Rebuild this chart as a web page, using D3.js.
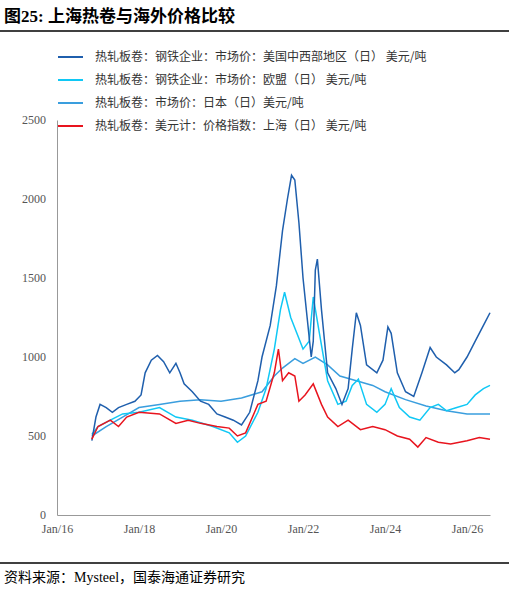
<!DOCTYPE html><html><head><meta charset="utf-8">
<script src="https://cdn.jsdelivr.net/npm/d3@7"></script>
<style>body{margin:0;background:#fff}</style></head><body>
<svg id="c" width="509" height="593"></svg>
<script>
const seriesNames = ["热轧板卷：钢铁企业：市场价：美国中西部地区（日） 美元/吨","热轧板卷：钢铁企业：市场价：欧盟（日） 美元/吨","热轧板卷：市场价：日本（日）美元/吨","热轧板卷：美元计：价格指数：上海（日） 美元/吨"];
const colors = ["#1f5fad","#10c8f5","#3a9ede","#e8141e"];
const usT=[2016.85,2016.95,2017.05,2017.2,2017.35,2017.5,2017.7,2017.9,2018.05,2018.15,2018.3,2018.45,2018.6,2018.75,2018.9,2019.0,2019.1,2019.3,2019.5,2019.7,2019.9,2020.1,2020.3,2020.5,2020.7,2020.9,2021.0,2021.2,2021.35,2021.5,2021.62,2021.72,2021.8,2021.9,2022.0,2022.1,2022.2,2022.25,2022.3,2022.35,2022.45,2022.6,2022.8,2022.95,2023.1,2023.2,2023.3,2023.4,2023.55,2023.8,2023.95,2024.07,2024.15,2024.3,2024.5,2024.7,2024.9,2025.1,2025.25,2025.5,2025.7,2025.8,2026.0,2026.2,2026.4,2026.56];
const usV=[470,620,700,680,650,680,700,720,760,900,980,1010,970,900,960,900,830,780,720,700,640,620,600,570,650,850,1000,1200,1450,1800,2000,2150,2120,1850,1500,1250,1000,1100,1550,1620,1300,900,800,700,800,1050,1280,1200,950,900,980,1190,1150,900,780,750,900,1060,1000,950,900,920,1000,1100,1200,1280];
const euT=[2016.85,2017.0,2017.3,2017.6,2018.0,2018.5,2018.9,2019.3,2019.8,2020.2,2020.4,2020.6,2020.9,2021.1,2021.3,2021.45,2021.55,2021.7,2021.85,2022.0,2022.15,2022.25,2022.4,2022.6,2022.85,2023.05,2023.2,2023.35,2023.55,2023.8,2024.0,2024.15,2024.35,2024.6,2024.85,2025.1,2025.3,2025.5,2025.75,2026.0,2026.2,2026.4,2026.56];
const euV=[510,560,600,640,650,680,620,600,560,520,460,500,650,800,1050,1300,1410,1250,1150,1050,1100,1380,1150,850,700,720,820,860,700,650,700,800,680,620,600,680,700,660,680,700,760,800,820];
const jpT=[2016.85,2017.2,2017.6,2018.0,2018.5,2019.0,2019.5,2020.0,2020.5,2021.0,2021.3,2021.5,2021.8,2022.0,2022.3,2022.6,2022.9,2023.3,2023.7,2024.0,2024.5,2025.0,2025.5,2026.0,2026.56];
const jpV=[500,560,620,680,700,720,730,720,740,780,880,930,990,960,1000,950,880,850,820,780,730,690,660,640,640];
const shT=[2016.85,2017.0,2017.3,2017.5,2017.7,2018.0,2018.5,2018.9,2019.2,2019.5,2019.9,2020.2,2020.4,2020.6,2020.9,2021.1,2021.3,2021.4,2021.5,2021.65,2021.8,2021.9,2022.05,2022.25,2022.45,2022.6,2022.85,2023.1,2023.4,2023.7,2024.0,2024.3,2024.6,2024.8,2025.0,2025.3,2025.6,2026.0,2026.3,2026.56];
const shV=[480,560,600,560,620,650,640,580,600,580,560,550,500,520,700,720,900,1050,850,900,880,720,760,830,700,620,560,600,540,560,540,500,480,430,490,460,450,470,490,480];
const seriesT=[usT,euT,jpT,shT], seriesV=[usV,euV,jpV,shV];
const yTicks=[0,500,1000,1500,2000,2500];
const xTickLabels=["Jan/16","Jan/18","Jan/20","Jan/22","Jan/24","Jan/26"];
const xTickYears=[2016,2018,2020,2022,2024,2026];
const svg=d3.select("#c");
svg.append("text").attr("x",4).attr("y",22).attr("font-size",17).attr("font-weight","bold").attr("font-family","Liberation Serif, Noto Sans CJK SC, serif").attr("fill","#000").text("图25:  上海热卷与海外价格比较");
svg.append("line").attr("x1",0).attr("x2",509).attr("y1",31).attr("y2",31).attr("stroke","#000").attr("stroke-width",1.5);
svg.append("line").attr("x1",0).attr("x2",509).attr("y1",563).attr("y2",563).attr("stroke","#000").attr("stroke-width",1.5);
svg.append("text").attr("x",4).attr("y",582).attr("font-size",14).attr("font-family","Liberation Serif, Noto Sans CJK SC, serif").attr("fill","#000").text("资料来源：Mysteel，国泰海通证券研究");
const x=d3.scaleLinear().domain([2016,2026.56]).range([57,490]);
const y=d3.scaleLinear().domain([0,2500]).range([515,120]);
const ax=svg.append("g").attr("transform","translate(0,515)").call(d3.axisBottom(x).tickValues(xTickYears).tickFormat((d,i)=>xTickLabels[i]).tickSize(0).tickPadding(9));
ax.select(".domain").attr("stroke","#999");
const ay=svg.append("g").attr("transform","translate(57,0)").call(d3.axisLeft(y).tickValues(yTicks).tickFormat(d3.format("d")).tickSize(0).tickPadding(11));
ay.select(".domain").attr("stroke","#999");
svg.selectAll(".tick text").attr("font-family","Liberation Serif, serif").attr("font-size",12).attr("fill","#555");
[2,1,0,3].forEach(k=>{
 const pts=seriesT[k].map((t,i)=>[t,seriesV[k][i]]);
 svg.append("path").attr("d",d3.line().x(d=>x(d[0])).y(d=>y(d[1]))(pts)).attr("fill","none").attr("stroke",colors[k]).attr("stroke-width",1.5);
});
seriesNames.forEach((n,i)=>{
 const yy=57+i*23;
 svg.append("line").attr("x1",58).attr("x2",83).attr("y1",yy).attr("y2",yy).attr("stroke",colors[i]).attr("stroke-width",2);
 svg.append("text").attr("x",95).attr("y",yy+4).attr("font-size",12).attr("font-family","Noto Sans CJK SC, sans-serif").attr("fill","#333").text(n);
});
</script></body></html>
